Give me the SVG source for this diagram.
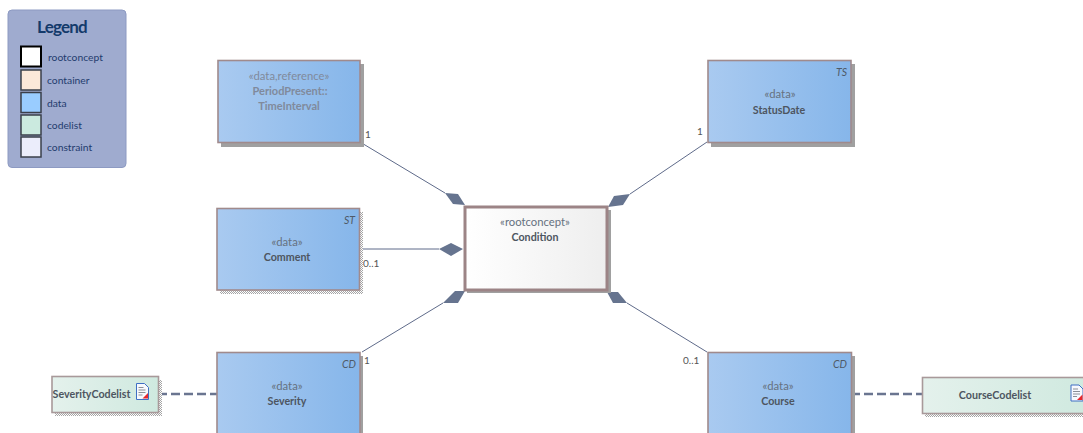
<svg xmlns="http://www.w3.org/2000/svg" width="1083" height="433" viewBox="0 0 1083 433">
<style>
text{font-family:"Lato","Liberation Sans",sans-serif;font-size:10px;text-anchor:middle;fill:#4d5560}
.b{font-weight:700;font-size:10.700px}
.s{fill:#667180;font-size:11.300px}
.tag{font-style:italic;text-anchor:end;fill:#4f5a68;font-size:10.500px}
.card{fill:#555;text-anchor:start}
.lg{fill:#1f3c6e;text-anchor:start;font-size:10.300px}
.box{fill:url(#dataG);stroke:#a08a8c;stroke-width:1.600}
.code{fill:url(#codeG);stroke:#a8999a;stroke-width:1.600}
.sh{fill:#a0a0a0}
.dot{fill:url(#dots)}
.sw{stroke:#3a3f4a;stroke-width:1.500}
.ln{stroke:#5f6b8a;stroke-width:1;fill:none}
.dash{stroke:#6a7590;stroke-width:2.500;stroke-dasharray:9 4;fill:none}
.dm{fill:#66748f}
.g{fill:#808a9c}
.ss{font-size:11.300px}
</style>
<defs>
<linearGradient id="dataG"><stop offset="0" stop-color="#a9caf0"/><stop offset="1" stop-color="#86b6ea"/></linearGradient>
<linearGradient id="codeG"><stop offset="0" stop-color="#e4f1ec"/><stop offset="1" stop-color="#cfe9df"/></linearGradient>
<linearGradient id="rootG"><stop offset="0" stop-color="#ffffff"/><stop offset="1" stop-color="#eeeeee"/></linearGradient>
<pattern id="dots" width="2" height="2" patternUnits="userSpaceOnUse"><rect width="2" height="2" fill="#fff"/><rect width="1" height="1" fill="#a5a5a5"/><rect x="1" y="1" width="1" height="1" fill="#a5a5a5"/></pattern>
<g id="doc"><path d="M0 0H8L12 4V16H0Z" fill="#f7f9fd" stroke="#3f6fc4" stroke-width="1"/><path d="M2 4H7M2 6.500H9M2 9H9M2 11.500H6" stroke="#8a8f98" stroke-width="1"/><path d="M6 15L11.500 9.500V15Z" fill="#e8262c"/></g>
</defs>

<g id="legend">
<rect x="8" y="10" width="118" height="157.500" rx="4" fill="#9fabcf" stroke="#8d9ac2"/>
<text x="62" y="33" style="font-size:17px;font-weight:700;fill:#143a6b;letter-spacing:-.8px">Legend</text>
<rect class="sw" x="21" y="46.500" width="20" height="20" fill="#fff" style="stroke:#000;stroke-width:2"/>
<text class="lg" x="48" y="61">rootconcept</text>
<rect class="sw" x="21" y="70" width="20" height="20" fill="#fce8d9"/>
<text class="lg" x="47" y="84">container</text>
<rect class="sw" x="21" y="92.500" width="20" height="20" fill="#99ccff"/>
<text class="lg" x="47" y="106.500">data</text>
<rect class="sw" x="21" y="115" width="20" height="20" fill="#cbeadf"/>
<text class="lg" x="47" y="129">codelist</text>
<rect class="sw" x="21" y="137" width="20" height="20" fill="#ebedfb"/>
<text class="lg" x="47" y="151">constraint</text>
</g>

<g id="connectors">
<path class="ln" d="M360 142L445 193"/>
<path class="dm" d="M445 193L458 194L465 205L453 204Z"/>
<path class="ln" d="M707 142L630 194"/>
<path class="dm" d="M608 207L614 196L630 194L623 205Z"/>
<path class="ln" d="M360 249H439"/>
<path class="dm" d="M463 249L451 243L439 249L451 256Z"/>
<path class="ln" d="M362 352L443 303"/>
<path class="dm" d="M465 291H455L443 303H458Z"/>
<path class="ln" d="M627 303L707 352"/>
<path class="dm" d="M607 292H618L627 303H613Z"/>
<path class="dash" d="M158 394H217"/>
<path class="dash" d="M851 394H922"/>
<text class="card" x="365" y="138">1</text>
<text class="card" x="697" y="135">1</text>
<text class="card" x="363" y="267">0..1</text>
<text class="card" x="364" y="364">1</text>
<text class="card" x="683" y="364">0..1</text>
</g>

<g id="period">
<rect class="sh" x="221" y="64" width="143" height="83"/>
<rect class="box" x="218" y="60.500" width="142" height="82"/>
<text class="g ss" x="289" y="80">«data,reference»</text>
<text class="g b" style="font-size:11px" x="290" y="95">PeriodPresent::</text>
<text class="g b" style="font-size:11px" x="289" y="110">TimeInterval</text>
</g>

<g id="statusdate">
<rect class="sh" x="711" y="64" width="144" height="83"/>
<rect class="box" x="708" y="60.500" width="143" height="82"/>
<text class="tag" x="847" y="76">TS</text>
<text class="s" x="780" y="98">«data»</text>
<text class="b" x="779" y="114">StatusDate</text>
</g>

<g id="comment">
<rect class="dot" x="220" y="212" width="143" height="82"/>
<rect class="box" x="217" y="208.500" width="142.500" height="81.500"/>
<text class="tag" x="355" y="224">ST</text>
<text class="s" x="287" y="246">«data»</text>
<text class="b" x="287" y="261">Comment</text>
</g>

<g id="condition">
<rect class="sh" x="467" y="210" width="144" height="83"/>
<rect x="465" y="207" width="142" height="83" fill="url(#rootG)" stroke="#9c8486" stroke-width="3"/>
<text class="s" x="535" y="226">«rootconcept»</text>
<text class="b" x="535" y="241">Condition</text>
</g>

<g id="severity">
<rect class="sh" x="220" y="356" width="143" height="80"/>
<rect class="box" x="217" y="352.500" width="143" height="90"/>
<text class="tag" x="356" y="368">CD</text>
<text class="s" x="287" y="390">«data»</text>
<text class="b" x="287" y="405">Severity</text>
</g>

<g id="course">
<rect class="sh" x="711" y="356" width="144" height="80"/>
<rect class="box" x="708" y="352.500" width="143.500" height="90"/>
<text class="tag" x="847" y="368">CD</text>
<text class="s" x="778" y="390">«data»</text>
<text class="b" x="778" y="405">Course</text>
</g>

<g id="severitycodelist">
<rect class="dot" x="55" y="380" width="107" height="36"/>
<rect class="code" x="52" y="376.500" width="106.500" height="36"/>
<text class="b" x="91.500" y="398">SeverityCodelist</text>
<use href="#doc" x="136.500" y="383.500"/>
</g>

<g id="coursecodelist">
<rect class="dot" x="925" y="381" width="170" height="36"/>
<rect class="code" x="922.500" y="377.500" width="170" height="36"/>
<text class="b" x="995" y="399">CourseCodelist</text>
<use href="#doc" x="1071" y="385"/>
</g>
</svg>
